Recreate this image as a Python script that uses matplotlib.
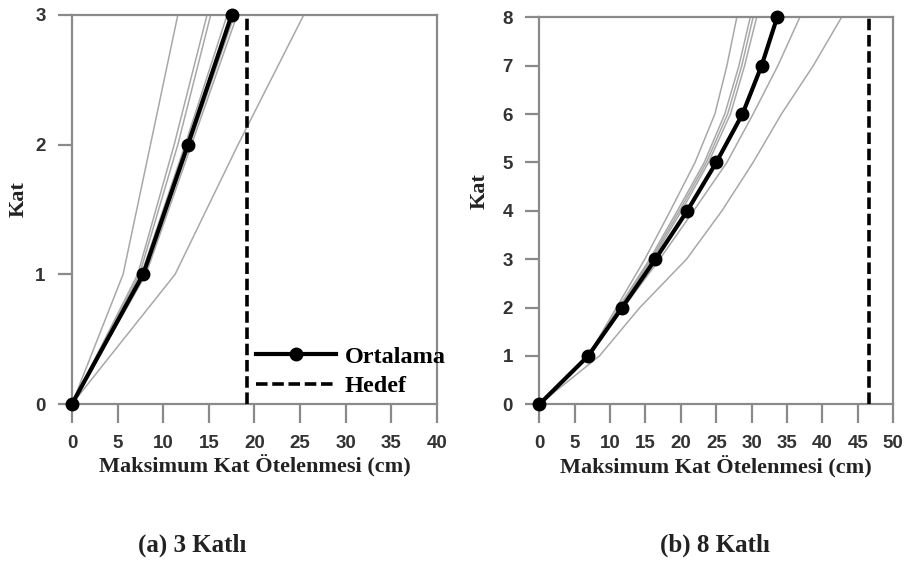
import matplotlib
matplotlib.use('Agg')
from matplotlib import pyplot as plt

# ---------- Data (cm drift per floor) ----------
floors_3 = [0, 1, 2, 3]
mean_3 = [0, 7.8, 12.7, 17.5]
target_3 = 19.2
records_3 = [
    [0, 5.6, 8.6, 11.6],
    [0, 7.2, 11.2, 14.8],
    [0, 7.4, 11.6, 15.2],
    [0, 7.6, 12.4, 17.0],
    [0, 7.9, 12.9, 17.8],
    [0, 8.1, 13.1, 18.1],
    [0, 11.3, 18.2, 25.4],
]

floors_8 = [0, 1, 2, 3, 4, 5, 6, 7, 8]
mean_8 = [0, 6.9, 11.7, 16.4, 20.9, 25.0, 28.7, 31.4, 33.6]
target_8 = 46.6
records_8 = [
    [0, 6.9, 10.9, 14.9, 18.5, 22.0, 24.8, 26.5, 27.9],
    [0, 7.0, 11.2, 15.6, 19.5, 23.3, 26.2, 28.2, 29.8],
    [0, 7.0, 11.3, 15.8, 19.8, 23.6, 26.6, 28.6, 30.2],
    [0, 7.1, 11.5, 16.0, 20.1, 23.9, 27.0, 29.0, 30.7],
    [0, 7.0, 11.9, 17.0, 21.8, 26.5, 30.2, 33.7, 36.8],
    [0, 8.5, 14.2, 20.8, 25.8, 30.2, 34.2, 38.7, 42.7],
]

xticks_3 = list(range(0, 41, 5))
xticks_8 = list(range(0, 51, 5))

SERIF = 'Liberation Serif'
SANS = 'Liberation Sans'
TXT = '#222222'
SPINE = '#8a8a8a'


def panel(ax, floors, mean, target, records, xticks, ylab_xy):
    '''One drift profile panel: gray records, black mean, dashed target.'''
    for r in records:
        ax.plot(r, floors, color='#a8a8a8', lw=1.1, zorder=2)
    ax.plot([target, target], [floors[0], floors[-1]], color='black', lw=2.6,
            linestyle=(0, (3.2, 1.3)), label='Hedef', zorder=3)
    ax.plot(mean, floors, color='black', lw=3, marker='o', ms=9,
            label='Ortalama', clip_on=False, zorder=4)
    ax.set_xlim(xticks[0], xticks[-1])
    ax.set_ylim(floors[0], floors[-1])
    ax.set_xticks(xticks)
    ax.set_yticks(floors)
    for s in ax.spines.values():
        s.set_color(SPINE)
        s.set_linewidth(1.6)
    ax.tick_params(axis='x', length=14, width=1.6, color=SPINE, pad=8)
    ax.tick_params(axis='y', length=10, width=1.6, color=SPINE, pad=9)
    for lab in ax.get_xticklabels() + ax.get_yticklabels():
        lab.set_fontfamily(SANS)
        lab.set_fontweight('bold')
        lab.set_fontsize(13.5)
        lab.set_color('#333333')
    ax.set_xlabel('Maksimum Kat Ötelenmesi (cm)', family=SERIF, weight='bold',
                  fontsize=16, color=TXT, labelpad=2)
    ax.set_ylabel('Kat', family=SERIF, weight='bold', fontsize=16, color=TXT)
    ax.yaxis.set_label_coords(*ylab_xy)


fig = plt.figure(figsize=(9.09, 5.63), dpi=100)
ax1 = fig.add_axes([0.0792, 0.2824, 0.4015, 0.691])
ax2 = fig.add_axes([0.5933, 0.2819, 0.3894, 0.6874])

panel(ax1, floors_3, mean_3, target_3, records_3, xticks_3, (-0.12, 0.527))
panel(ax2, floors_8, mean_8, target_8, records_8, xticks_8, (-0.139, 0.55))

handles, labels = ax1.get_legend_handles_labels()
ax1.legend(handles[::-1], labels[::-1], loc='lower left',
           bbox_to_anchor=(0.49, 0.005), frameon=False, handlelength=3.3,
           handletextpad=0.35, labelspacing=0.3, borderaxespad=0, borderpad=0.2,
           prop={'family': SERIF, 'weight': 'bold', 'size': 17.5})

fig.text(0.212, 0.032, '(a) 3 Katlı', family=SERIF, weight='bold', fontsize=18,
         color=TXT, ha='center', va='center')
fig.text(0.787, 0.032, '(b) 8 Katlı', family=SERIF, weight='bold', fontsize=18,
         color=TXT, ha='center', va='center')

fig.savefig('out.png', dpi=100)
